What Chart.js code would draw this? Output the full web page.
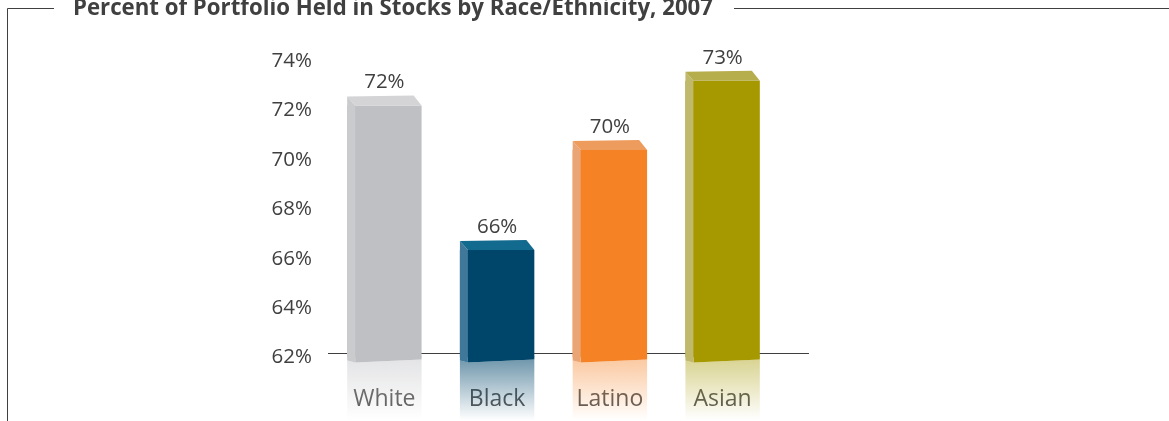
<!DOCTYPE html>
<html>
<head>
<meta charset="utf-8">
<script src="https://cdn.jsdelivr.net/npm/chart.js@4.4.0/dist/chart.umd.min.js"></script>
<style>
  html, body { margin: 0; padding: 0; background: #fff; }
</style>
</head>
<body>
<canvas id="stocks" width="1169" height="421"></canvas>
<script>
const titleText = 'Percent of Portfolio Held in Stocks by Race/Ethnicity, 2007'
const groups = ['White', 'Black', 'Latino', 'Asian']
const stockShare = [72.2, 66.35, 70.4, 73.2]
const yTicks = [62, 64, 66, 68, 70, 72, 74]

const frontColors = ['#bfc0c4', '#00466b', '#f58225', '#a69900']
const sideColors = ['#cacbcd', '#3f7899', '#eaa576', '#c0b86a']
const topColors = ['#d4d4d6', '#136a8f', '#ee9c5e', '#b6ad4c']

const depthX = 8
const depthY = 9
const sink = 5

function rgba(hex, a) {
  const n = parseInt(hex.slice(1), 16)
  return `rgba(${n >> 16}, ${(n >> 8) & 255}, ${n & 255}, ${a})`
}

function poly(ctx, pts) {
  ctx.beginPath()
  pts.forEach((p, i) => (i ? ctx.lineTo(p[0], p[1]) : ctx.moveTo(p[0], p[1])))
  ctx.closePath()
  ctx.fill()
}

// frame lines + title sitting in the top rule
const frame = {
  id: 'frame',
  beforeDraw(chart) {
    const { ctx, width, height } = chart
    ctx.save()
    ctx.fillStyle = '#fff'
    ctx.fillRect(0, 0, width, height)
    ctx.font = 'bold 23px "Open Sans"'
    const sx = 640 / ctx.measureText(titleText).width
    ctx.fillStyle = '#404040'
    ctx.textBaseline = 'alphabetic'
    ctx.translate(73, 15)
    ctx.scale(sx, 1)
    ctx.fillText(titleText, 0, 0)
    ctx.setTransform(1, 0, 0, 1, 0, 0)
    ctx.strokeStyle = '#404040'
    ctx.lineWidth = 1
    ctx.beginPath()
    ctx.moveTo(7.5, height)
    ctx.lineTo(7.5, 8.5)
    ctx.lineTo(54, 8.5)
    ctx.moveTo(734, 8.5)
    ctx.lineTo(width, 8.5)
    ctx.stroke()
    ctx.restore()
  },
}

const bars3d = {
  id: 'bars3d',
  beforeDatasetsDraw(chart) {
    const { ctx, chartArea } = chart
    const y = Math.round(chart.scales.y.getPixelForValue(yTicks[0])) - 4.5
    ctx.save()
    ctx.strokeStyle = '#404040'
    ctx.lineWidth = 1
    ctx.beginPath()
    ctx.moveTo(chartArea.left, y)
    ctx.lineTo(chartArea.right + 30, y)
    ctx.stroke()
    ctx.restore()
  },
  afterDatasetsDraw(chart) {
    const { ctx } = chart
    const meta = chart.getDatasetMeta(0)
    ctx.save()
    meta.data.forEach((bar, i) => {
      const L = bar.x - bar.width / 2
      const R = bar.x + bar.width / 2
      const top = bar.y
      const bottom = bar.base + sink

      ctx.fillStyle = frontColors[i]
      poly(ctx, [[L + depthX, bar.base - 1], [R, bar.base - 1], [R, bottom - 3], [L + depthX, bottom]])

      ctx.fillStyle = sideColors[i]
      poly(ctx, [[L, top - depthY], [L + depthX, top], [L + depthX, bottom], [L, bottom - 2]])

      ctx.fillStyle = topColors[i]
      poly(ctx, [[L, top - depthY], [R - depthX, top - depthY - 1], [R, top], [L + depthX, top]])

      // soft reflection under the bar
      const g = ctx.createLinearGradient(0, bottom - 2, 0, bottom + 58)
      g.addColorStop(0, rgba(frontColors[i], i === 1 ? 0.55 : 0.42))
      g.addColorStop(1, rgba(frontColors[i], 0))
      ctx.fillStyle = g
      poly(ctx, [[L, bottom - 2], [L + depthX, bottom], [R, bottom - 3], [R, bottom + 58], [L, bottom + 58]])

      ctx.fillStyle = '#404040'
      ctx.font = '20.5px "Open Sans"'
      ctx.textAlign = 'center'
      ctx.textBaseline = 'alphabetic'
      ctx.fillText(Math.round(stockShare[i]) + '%', bar.x, top - depthY - 8)
    })
    ctx.restore()
  },
}

const stocksChart = new Chart(document.getElementById('stocks'), {
  type: 'bar',
  data: {
    labels: groups,
    datasets: [
      {
        data: stockShare,
        base: yTicks[0],
        backgroundColor: frontColors,
        borderWidth: 0,
        barPercentage: 0.66,
        categoryPercentage: 1,
      },
    ],
  },
  plugins: [frame, bars3d],
  options: {
    responsive: false,
    animation: false,
    devicePixelRatio: 1,
    layout: { padding: { top: 61, right: 390, left: 0, bottom: 0 } },
    plugins: { legend: { display: false }, title: { display: false }, tooltip: { enabled: false } },
    scales: {
      x: {
        z: 1,
        grid: { display: false, drawTicks: false },
        border: { display: false },
        ticks: { color: '#595959', font: { family: 'Open Sans', size: 23 }, padding: 28 },
        afterFit(s) { s.height = 63.5 },
      },
      y: {
        beginAtZero: false,
        min: 62,
        max: 74,
        afterBuildTicks(s) { s.ticks = yTicks.map(v => ({ value: v })) },
        grid: { display: false, drawTicks: false },
        border: { display: false },
        ticks: {
          color: '#404040',
          font: { family: 'Open Sans', size: 20.5 },
          padding: 16,
          callback: v => v + '%',
        },
        afterFit(s) { s.width = 328 },
      },
    },
  },
})
</script>
</body>
</html>
